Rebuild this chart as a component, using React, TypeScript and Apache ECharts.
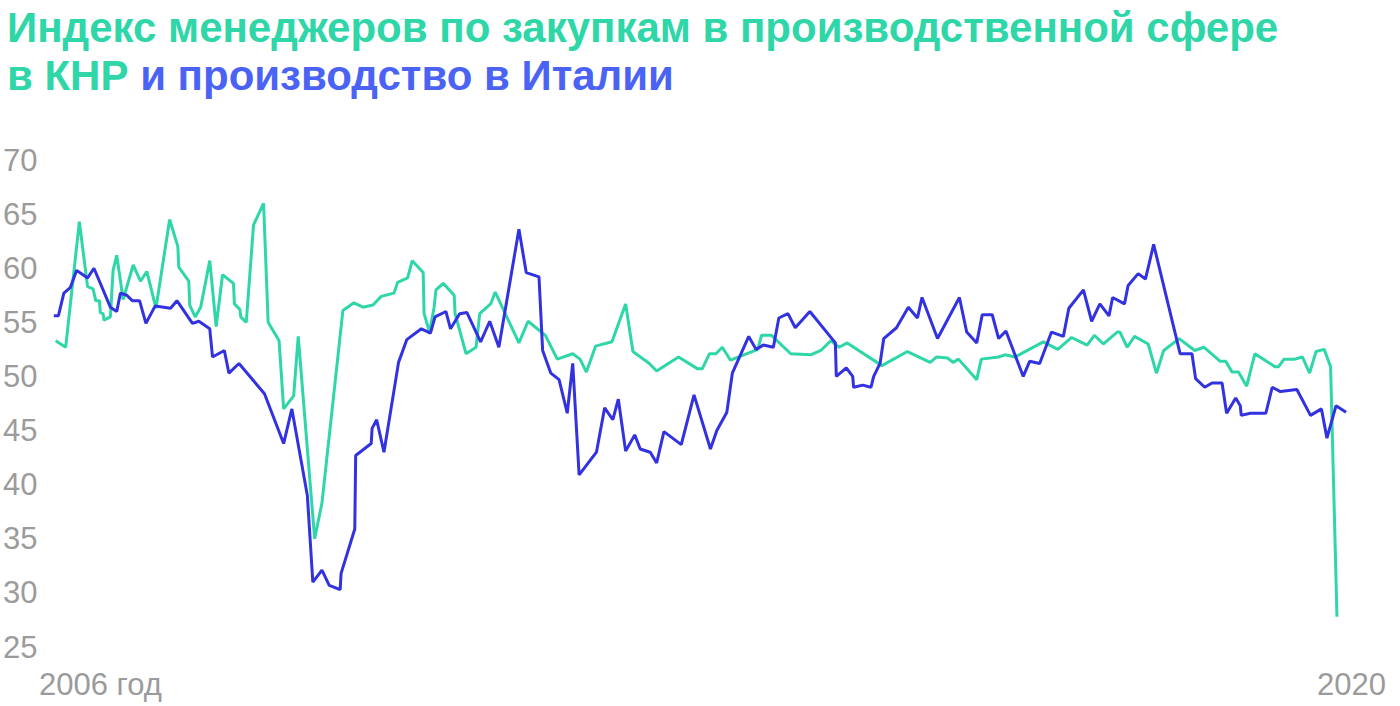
import React, { useEffect, useRef } from "react";
import * as echarts from "echarts";

// China manufacturing PMI (x = decimal year)
const chinaX = [
  2006.04, 2006.15, 2006.30, 2006.39, 2006.45, 2006.48, 2006.52, 2006.53, 2006.56, 2006.57,
  2006.64, 2006.67, 2006.71, 2006.78, 2006.89, 2006.97, 2007.04, 2007.14, 2007.29, 2007.38,
  2007.39, 2007.50, 2007.51, 2007.57, 2007.63, 2007.73, 2007.80, 2007.87, 2007.99, 2008.00,
  2008.06, 2008.07, 2008.13, 2008.21, 2008.32, 2008.37, 2008.49, 2008.54, 2008.65, 2008.70,
  2008.88, 2008.96, 2009.19, 2009.31, 2009.41, 2009.52, 2009.61, 2009.75, 2009.79, 2009.90,
  2009.95, 2010.07, 2010.08, 2010.14, 2010.19, 2010.21, 2010.29, 2010.41, 2010.42, 2010.54,
  2010.65, 2010.69, 2010.81, 2010.86, 2011.12, 2011.22, 2011.41, 2011.54, 2011.71, 2011.79,
  2011.86, 2011.96, 2012.14, 2012.29, 2012.37, 2012.55, 2012.63, 2012.87, 2013.08, 2013.13,
  2013.21, 2013.28, 2013.35, 2013.44, 2013.74, 2013.78, 2013.89, 2014.10, 2014.32, 2014.43,
  2014.54, 2014.63, 2014.72, 2015.10, 2015.38, 2015.63, 2015.70, 2015.82, 2015.88, 2015.94,
  2016.14, 2016.19, 2016.38, 2016.45, 2016.56, 2016.87, 2017.03, 2017.18, 2017.35, 2017.43,
  2017.53, 2017.68, 2017.71, 2017.79, 2017.87, 2018.02, 2018.11, 2018.19, 2018.36, 2018.53,
  2018.63, 2018.81, 2018.87, 2018.94, 2019.01, 2019.10, 2019.19, 2019.41, 2019.45, 2019.51,
  2019.63, 2019.71, 2019.79, 2019.86, 2019.95, 2020.02, 2020.09
];
const chinaPMI = [
  53.3, 52.7, 64.3, 58.3, 58.1, 57.0, 57.0, 55.9, 55.8, 55.2,
  55.5, 59.8, 61.2, 57.1, 60.3, 58.8, 59.7, 56.3, 64.5, 62.0,
  60.1, 58.8, 56.6, 55.5, 56.4, 60.7, 54.6, 59.4, 58.6, 56.7,
  56.2, 55.5, 55.0, 64.0, 66.0, 55.0, 53.3, 47.0, 48.2, 53.7,
  35.0, 38.3, 56.1, 56.8, 56.4, 56.6, 57.4, 57.7, 58.7, 59.1,
  60.7, 59.6, 55.8, 54.1, 56.4, 58.0, 58.6, 57.5, 55.8, 52.1,
  52.7, 55.8, 56.7, 57.8, 53.1, 55.1, 53.8, 51.6, 52.1, 51.6,
  50.4, 52.8, 53.2, 56.7, 52.3, 51.2, 50.5, 51.8, 50.7, 50.7,
  52.1, 52.1, 52.7, 51.5, 52.5, 53.8, 53.8, 52.1, 52.0, 52.4,
  53.3, 52.7, 53.1, 51.0, 52.3, 51.3, 51.8, 51.7, 51.3, 51.6,
  49.7, 51.6, 51.8, 52.0, 51.8, 53.2, 52.5, 53.6, 52.9, 53.8,
  53.0, 54.1, 54.1, 52.7, 53.7, 53.0, 50.3, 52.4, 53.5, 52.4,
  52.7, 51.4, 51.4, 50.4, 50.4, 49.1, 52.1, 50.9, 50.9, 51.6,
  51.6, 51.8, 50.3, 52.3, 52.5, 50.9, 27.8
];

// Italy industrial production (x = decimal year)
const italyX = [
  2006.02, 2006.07, 2006.13, 2006.20, 2006.27, 2006.39, 2006.46, 2006.64, 2006.71, 2006.75,
  2006.82, 2006.88, 2006.96, 2007.03, 2007.13, 2007.30, 2007.37, 2007.54, 2007.61, 2007.73,
  2007.76, 2007.89, 2007.94, 2008.05, 2008.33, 2008.54, 2008.63, 2008.80, 2008.86, 2008.96,
  2009.04, 2009.16, 2009.17, 2009.32, 2009.33, 2009.50, 2009.51, 2009.56, 2009.64, 2009.80,
  2009.89, 2010.05, 2010.15, 2010.20, 2010.32, 2010.37, 2010.47, 2010.55, 2010.70, 2010.80,
  2010.90, 2011.12, 2011.20, 2011.34, 2011.38, 2011.47, 2011.56, 2011.65, 2011.71, 2011.78,
  2011.97, 2012.06, 2012.15, 2012.21, 2012.29, 2012.39, 2012.45, 2012.56, 2012.63, 2012.71,
  2012.90, 2013.04, 2013.22, 2013.29, 2013.40, 2013.46, 2013.64, 2013.72, 2013.80, 2013.91,
  2013.97, 2014.07, 2014.15, 2014.31, 2014.59, 2014.60, 2014.71, 2014.78, 2014.79, 2014.89,
  2014.98, 2015.01, 2015.08, 2015.12, 2015.26, 2015.39, 2015.49, 2015.54, 2015.71, 2015.95,
  2016.03, 2016.14, 2016.20, 2016.31, 2016.38, 2016.46, 2016.65, 2016.72, 2016.83, 2016.96,
  2017.09, 2017.15, 2017.31, 2017.40, 2017.49, 2017.59, 2017.63, 2017.76, 2017.80, 2017.91,
  2017.99, 2018.08, 2018.37, 2018.50, 2018.54, 2018.64, 2018.72, 2018.83, 2018.88, 2018.98,
  2019.03, 2019.04, 2019.14, 2019.31, 2019.38, 2019.47, 2019.65, 2019.80, 2019.92, 2019.98,
  2020.08, 2020.19
];
const italyProd = [
  55.6, 55.6, 57.7, 58.2, 59.8, 59.1, 60.0, 56.4, 56.0, 57.7,
  57.5, 57.0, 57.0, 54.9, 56.5, 56.3, 57.0, 54.9, 55.1, 54.4,
  51.8, 52.4, 50.3, 51.2, 48.4, 43.8, 47.0, 39.0, 31.0, 32.1,
  30.7, 30.3, 31.8, 35.9, 42.7, 43.8, 45.2, 46.0, 43.0, 51.3,
  53.4, 54.4, 54.0, 55.5, 56.0, 54.4, 55.8, 55.9, 53.2, 55.1,
  52.7, 63.6, 59.6, 59.2, 52.4, 50.3, 49.7, 46.6, 51.2, 40.9,
  43.0, 47.1, 46.0, 47.9, 43.1, 44.6, 43.3, 43.0, 42.0, 44.9,
  43.7, 48.3, 43.3, 45.0, 46.7, 50.3, 53.7, 52.5, 52.9, 52.7,
  55.4, 55.8, 54.5, 56.0, 53.1, 50.0, 50.8, 50.0, 49.0, 49.2,
  49.0, 50.0, 51.2, 53.5, 54.5, 56.4, 55.4, 57.3, 53.5, 57.3,
  54.1, 53.1, 55.7, 55.7, 53.5, 54.2, 50.0, 51.4, 51.2, 54.1,
  53.7, 56.3, 58.0, 55.1, 56.7, 55.6, 57.3, 56.7, 58.4, 59.5,
  59.0, 62.2, 52.1, 52.1, 49.8, 49.0, 49.4, 49.4, 46.6, 48.0,
  47.3, 46.4, 46.6, 46.6, 49.0, 48.6, 48.8, 46.4, 47.0, 44.3,
  47.3, 46.7
];

const yTicks = { min: 25, max: 70, step: 5 };
const xTickLabels = ["2006 год", "2020"];
const titleLine1 = "Индекс менеджеров по закупкам в производственной сфере";
const titleLine2a = "в КНР";
const titleLine2b = "и производство в Италии";

const GREEN = "#2ed6a8";
const BLUE_LINE = "#3232e0";
const BLUE_TITLE = "#4a63f5";
const GRAY = "#9b9b9b";
const FONT = "Liberation Sans, Arial, sans-serif";

export default function App() {
  const ref = useRef<HTMLDivElement>(null);
  useEffect(() => {
    if (!ref.current) return;
    const chart = echarts.init(ref.current, undefined, { renderer: "svg" });
    const chinaData = chinaX.map((x, i) => [x, chinaPMI[i]]);
    const italyData = italyX.map((x, i) => [x, italyProd[i]]);
    const titleStyle = { fontFamily: FONT, fontWeight: "bold", fontSize: 42, lineHeight: 48 };
    chart.setOption({
      animation: false,
      backgroundColor: "#ffffff",
      title: {
        left: 2,
        top: -2,
        text: `{g|${titleLine1}}\n{g|${titleLine2a}\u00a0}{b|${titleLine2b}}`,
        textStyle: {
          rich: {
            g: { ...titleStyle, color: GREEN },
            b: { ...titleStyle, color: BLUE_TITLE },
          },
        },
      },
      grid: { left: 50, right: 53, top: 160, bottom: 59, containLabel: false },
      xAxis: {
        type: "value",
        min: 2006,
        max: 2020.2,
        axisLine: { show: false },
        axisTick: { show: false },
        axisLabel: { show: false },
        splitLine: { show: false },
      },
      yAxis: {
        type: "value",
        min: yTicks.min,
        max: yTicks.max,
        interval: yTicks.step,
        axisLine: { show: false },
        axisTick: { show: false },
        splitLine: { show: false },
        axisLabel: {
          align: "left",
          margin: 49,
          color: GRAY,
          fontSize: 31,
          fontFamily: FONT,
        },
      },
      graphic: [
        {
          type: "text",
          left: 39,
          top: 669,
          style: { text: xTickLabels[0], fill: GRAY, fontSize: 31, fontFamily: FONT },
        },
        {
          type: "text",
          right: 14,
          top: 669,
          style: { text: xTickLabels[1], fill: GRAY, fontSize: 31, fontFamily: FONT },
        },
      ],
      series: [
        {
          name: "PMI КНР",
          type: "line",
          data: chinaData,
          showSymbol: false,
          symbol: "none",
          lineStyle: { color: GREEN, width: 3 },
          z: 2,
        },
        {
          name: "Производство в Италии",
          type: "line",
          data: italyData,
          showSymbol: false,
          symbol: "none",
          lineStyle: { color: BLUE_LINE, width: 3 },
          z: 3,
        },
      ],
    });
    return () => chart.dispose();
  }, []);
  return (
    <div
      ref={ref}
      style={{ position: "absolute", left: 0, top: 0, width: 1400, height: 706 }}
    />
  );
}
